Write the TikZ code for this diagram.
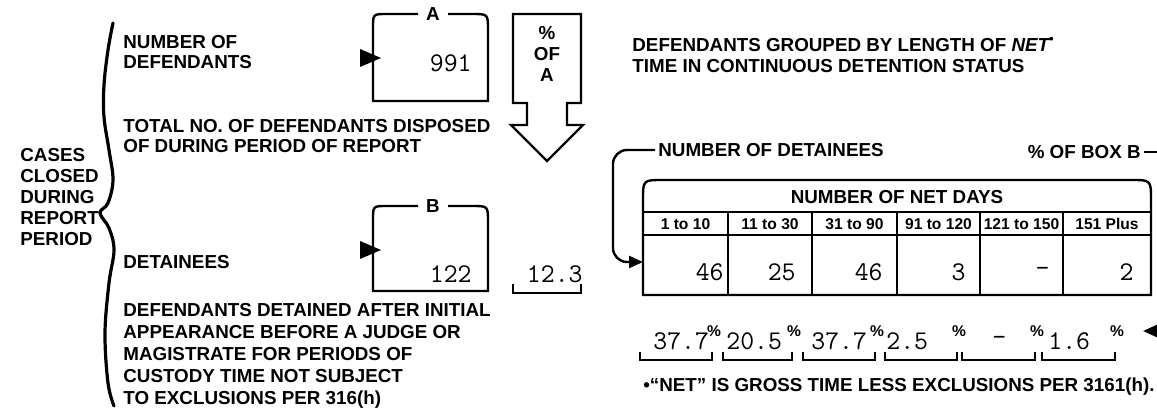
\documentclass[tikz,border=0pt]{standalone}
\usepackage{fontspec}
\setmainfont{Liberation Sans}
\usetikzlibrary{arrows.meta}

\begin{document}
\begin{tikzpicture}[x=0.5pt,y=-0.5pt,
    txt/.style={font=\bfseries\fontsize{9.4}{10}\selectfont,inner sep=0pt,align=left,anchor=north west},
    tt/.style={font=\ttfamily\fontsize{13.5}{13.5}\selectfont,inner sep=0pt},
    small/.style={font=\bfseries\fontsize{7.8}{8}\selectfont,inner sep=0pt},
    heavy/.style={line width=1.2pt},
    thin/.style={line width=0.9pt}]
\useasboundingbox (0,0) rectangle (1157,410);

% big brace
\draw[line width=1.6pt,line cap=round] plot[smooth,tension=0.6] coordinates {(113,23) (108,50) (104,85) (104,117) (109,150) (113,180) (108,203) (100,213) (109,228) (114,250) (109,283) (105,333) (108,383) (114,406)};
\node[txt,font=\bfseries\fontsize{9.4}{10.5}\selectfont] (cases) at (20,148.3) {CASES\\CLOSED\\DURING\\REPORT\\PERIOD};

% box A
\node[txt] (numdef) at (123,35.3) {NUMBER OF\\DEFENDANTS};
\node[txt] (total) at (123,119.3) {TOTAL NO. OF DEFENDANTS DISPOSED\\OF DURING PERIOD OF REPORT};
\draw[heavy] (418,14) -- (387,14) .. controls (373,14) .. (373,28) -- (373,101) -- (488,101) -- (488,30) .. controls (488,14) .. (472,14) -- (448,14);
\node[txt,anchor=center] (labA) at (433,14) {A};
\fill (360,49) -- (381,58) -- (360,67) -- cycle;
\node[tt,anchor=east] (numA) at (472,63) {991};

% % of A arrow
\draw[heavy] (513,14) -- (581,14) -- (581,103) -- (567,103) -- (567,125) -- (583,125) -- (547,161) -- (511,125) -- (527,125) -- (527,103) -- (513,103) -- cycle;
\node[txt,align=center,anchor=north,font=\bfseries\fontsize{9.4}{10.5}\selectfont] (ofA) at (547,26.3) {\%\\OF\\A};

% box B
\node[txt] (detn) at (123,255.3) {DETAINEES};
\node[txt,font=\bfseries\fontsize{9.4}{11}\selectfont] (detdesc) at (123,303.3) {DEFENDANTS DETAINED AFTER INITIAL\\APPEARANCE BEFORE A JUDGE OR\\MAGISTRATE FOR PERIODS OF\\CUSTODY TIME NOT SUBJECT\\TO EXCLUSIONS PER 316(h)};
\draw[heavy] (418,206) -- (387,206) .. controls (373,206) .. (373,220) -- (373,291) -- (488,291) -- (488,222) .. controls (488,206) .. (472,206) -- (448,206);
\node[txt,anchor=center] (labB) at (433,206) {B};
\fill (360,241) -- (381,250) -- (360,259) -- cycle;
\node[tt,anchor=east] (numB) at (472,274) {122};
\draw[thin] (513,284) -- (513,293) -- (581,293) -- (581,284);
\node[tt,anchor=east] (pctB) at (583,274) {12.3};

% right part
\node[txt,font=\bfseries\fontsize{9.4}{10.5}\selectfont] (grouped) at (632,37.3) {DEFENDANTS GROUPED BY LENGTH OF {\itshape NET}\textsuperscript{•}\\TIME IN CONTINUOUS DETENTION STATUS};
\node[txt,anchor=west] (detlbl) at (658,150) {NUMBER OF DETAINEES};
\node[txt,anchor=east] (boxblbl) at (1141,152) {\% OF BOX B};
\coordinate (boxbend) at (1157,152);
\draw[thin] (boxblbl.east) ++(3,0) -- (boxbend);

% table
\draw[heavy] (643,295) -- (643,200) .. controls (643,180) .. (663,180) -- (1131,180) .. controls (1151,180) .. (1151,200) -- (1151,295) -- cycle;
\draw[heavy] (643,212) -- (1151,212);
\draw[heavy] (643,235) -- (1151,235);
\foreach \x in {728,812,897,980,1063}
  \draw[heavy] (\x,212) -- (\x,295);
\node[txt,anchor=center] (netdays) at (897,197) {NUMBER OF NET DAYS};
\foreach \x/\t [count=\i] in {685.5/1 to 10,770/11 to 30,854.5/31 to 90,938.5/91 to 120,1021.5/121 to 150,1107/151 Plus}
  \node[small] (col\i) at (\x,224) {\t};
\foreach \x/\v [count=\i] in {724/46,796/25,883/46,966/3,1050/–,1134/2}
  \node[tt,anchor=east] (val\i) at (\x,272) {\v};
\coordinate (tblin) at (643,262);
\draw[heavy,rounded corners=7pt,-{Triangle[length=7pt,width=6pt]}] (detlbl.west) ++(-3,0) -| (613,262) -- (tblin);

% percent row
\foreach \a/\b/\v/\s [count=\i] in {640/712/37.7/653,723/792/20.5/726,803/875/37.7/811,885/957/2.5/886,962/1035/–/992,1042/1115/1.6/1048}{
  \draw[thin] (\a,352) -- (\a,360) -- (\b,360) -- (\b,352);
  \node[tt,anchor=west] (pv\i) at (\s,341) {\v};
  \node[small] (pc\i) at (\b+2,331) {\%};
}
\coordinate (rowin) at (1143,331);
\coordinate (rowend) at (1162,331);
\draw[heavy,-{Triangle[length=7pt,width=6pt]}] (rowend) -- (rowin);

\node[txt,anchor=west] (foot) at (643,387) {•“NET” IS GROSS TIME LESS EXCLUSIONS PER 3161(h).};
\end{tikzpicture}
\end{document}
